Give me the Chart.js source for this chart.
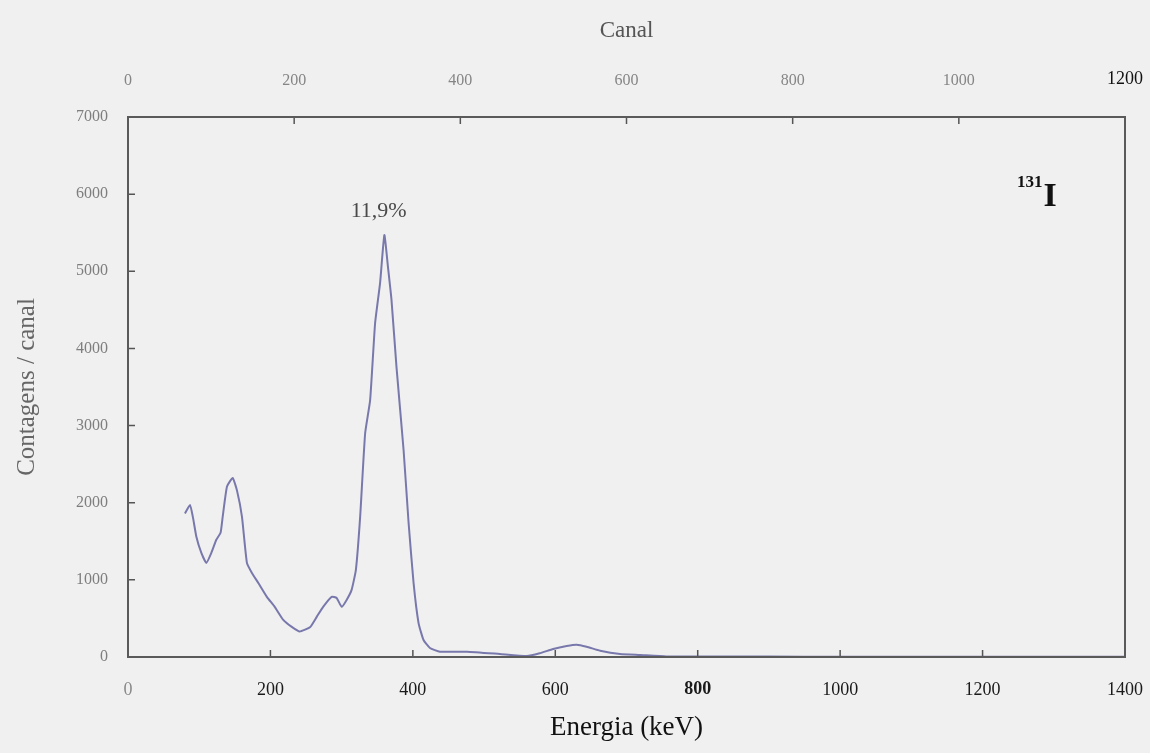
<!DOCTYPE html>
<html>
<head>
<meta charset="utf-8">
<title>Espectro 131I</title>
<script src="https://cdn.jsdelivr.net/npm/chart.js@4/dist/chart.umd.min.js"></script>
<style>
  html, body { margin: 0; padding: 0; background: #f0f0f0; }
  #wrap { width: 1150px; height: 753px; }
</style>
</head>
<body>
<div id="wrap"><canvas id="spectrum" width="1150" height="753"></canvas></div>
<script>
/* ── Data ────────────────────────────────────────────────────── */
const energyKeV = [80, 87, 91, 96, 103, 110, 117, 124, 130, 133, 139, 147, 153, 160, 167, 174,
  183, 195, 206, 218, 230, 241, 256, 265, 274, 286, 293, 300, 307, 314, 320, 326, 333, 340,
  347, 354, 360, 365, 370, 377, 387, 394, 401, 408, 415, 424, 438, 476, 522, 560, 578, 597,
  616, 630, 644, 663, 691, 719, 756, 800, 900, 1000, 1100, 1200, 1300, 1400];
const countsPerChannel = [1860, 1970, 1820, 1560, 1350, 1220, 1350, 1520, 1610, 1820, 2210, 2320,
  2160, 1820, 1220, 1090, 960, 780, 650, 480, 390, 330, 390, 520, 650, 780, 765, 650, 740, 870,
  1130, 1820, 2900, 3330, 4330, 4850, 5470, 5060, 4630, 3760, 2680, 1740, 960, 440, 220, 117,
  69, 69, 39, 13, 48, 104, 143, 160, 134, 82, 39, 26, 8, 6, 5, 4, 3, 3, 2, 2];

const energyTicks = [0, 200, 400, 600, 800, 1000, 1200, 1400];
const channelTicks = [0, 200, 400, 600, 800, 1000, 1200];
const countTicks = [0, 1000, 2000, 3000, 4000, 5000, 6000, 7000];

const peakLabel = { text: "11,9%", energy: 352, counts: 5780 };
const isotope = { mass: "131", symbol: "I" };

const SERIF = "'Liberation Serif', 'DejaVu Serif', serif";

/* ── Helpers drawn with the chart's scales ───────────────────── */
const background = {
  id: "background",
  beforeDraw(chart) {
    const { ctx, width, height } = chart;
    ctx.save();
    ctx.fillStyle = "#f0f0f0";
    ctx.fillRect(0, 0, width, height);
    ctx.restore();
  },
};

const frameAndTicks = {
  id: "frameAndTicks",
  afterDatasetsDraw(chart) {
    const { ctx, chartArea: a, scales } = chart;
    ctx.save();
    ctx.strokeStyle = "#555";
    ctx.lineWidth = 1.5;
    ctx.beginPath();
    energyTicks.slice(1, -1).forEach(v => {
      const x = scales.x.getPixelForValue(v);
      ctx.moveTo(x, a.bottom); ctx.lineTo(x, a.bottom - 7);
    });
    channelTicks.slice(1, -1).forEach(v => {
      const x = scales.x2.getPixelForValue(v);
      ctx.moveTo(x, a.top); ctx.lineTo(x, a.top + 7);
    });
    countTicks.slice(1, -1).forEach(v => {
      const y = scales.y.getPixelForValue(v);
      ctx.moveTo(a.left, y); ctx.lineTo(a.left + 7, y);
    });
    ctx.stroke();

    ctx.strokeStyle = "#5a5a5a";
    ctx.lineWidth = 2;
    ctx.strokeRect(a.left, a.top, a.right - a.left, a.bottom - a.top);
    ctx.restore();
  },
};

const annotations = {
  id: "annotations",
  afterDraw(chart) {
    const { ctx, chartArea: a, scales } = chart;
    ctx.save();
    ctx.fillStyle = "#4a4a4a";
    ctx.font = `22px ${SERIF}`;
    ctx.textAlign = "center";
    ctx.textBaseline = "middle";
    ctx.fillText(peakLabel.text,
      scales.x.getPixelForValue(peakLabel.energy),
      scales.y.getPixelForValue(peakLabel.counts));

    // isotope tag, upper right
    ctx.fillStyle = "#111";
    ctx.textAlign = "left";
    ctx.textBaseline = "alphabetic";
    ctx.font = `bold 17px ${SERIF}`;
    const mx = a.right - 108;
    ctx.fillText(isotope.mass, mx, a.top + 70);
    const mw = ctx.measureText(isotope.mass).width;
    ctx.font = `bold 34px ${SERIF}`;
    ctx.fillText(isotope.symbol, mx + mw + 1, a.top + 89);
    ctx.restore();
  },
};

function noOverhang(s) {
  s.paddingLeft = 0; s.paddingRight = 0; s.paddingTop = 0; s.paddingBottom = 0;
}

/* ── Chart ───────────────────────────────────────────────────── */
new Chart(document.getElementById("spectrum"), {
  type: "line",
  data: {
    datasets: [{
      data: energyKeV.map((e, i) => ({ x: e, y: countsPerChannel[i] })),
      borderColor: "#7878ac",
      borderWidth: 2,
      pointRadius: 0,
      tension: 0.15,
      fill: false,
      xAxisID: "x",
      yAxisID: "y",
    }],
  },
  options: {
    responsive: false,
    animation: false,
    layout: { padding: { left: 0, right: 25, top: 0, bottom: 0 } },
    plugins: { legend: { display: false }, tooltip: { enabled: false } },
    scales: {
      x: {
        type: "linear", position: "bottom", min: 0, max: 1400,
        afterBuildTicks: s => { s.ticks = energyTicks.map(v => ({ value: v })); },
        afterFit: s => { s.height = 96; noOverhang(s); },
        grid: { display: false, drawTicks: false },
        border: { display: false },
        ticks: {
          padding: 22,
          callback: v => String(v),
          color: c => (c.tick && c.tick.value === 0 ? "#8a8a8a" : "#1a1a1a"),
          font: c => ({ family: SERIF, size: 18, weight: c.tick && c.tick.value === 800 ? "bold" : "normal" }),
        },
        title: {
          display: true, text: "Energia (keV)", color: "#111",
          font: { family: SERIF, size: 27 }, padding: { top: 0, bottom: 9 },
        },
      },
      x2: {
        type: "linear", position: "top", min: 0, max: 1200,
        afterBuildTicks: s => { s.ticks = channelTicks.map(v => ({ value: v })); },
        afterFit: s => { s.height = 117; noOverhang(s); },
        grid: { display: false, drawTicks: false },
        border: { display: false },
        ticks: {
          padding: 27,
          callback: v => String(v),
          color: c => (c.tick && c.tick.value === 1200 ? "#111" : "#858585"),
          font: c => ({ family: SERIF, size: c.tick && c.tick.value === 1200 ? 18 : 16 }),
        },
        title: {
          display: true, text: "Canal", color: "#555",
          font: { family: SERIF, size: 23 }, padding: { top: 17, bottom: 0 },
        },
      },
      y: {
        type: "linear", position: "left", min: 0, max: 7000,
        afterBuildTicks: s => { s.ticks = countTicks.map(v => ({ value: v })); },
        afterFit: s => { s.width = 128; noOverhang(s); },
        grid: { display: false, drawTicks: false },
        border: { display: false },
        ticks: { padding: 20, callback: v => String(v), color: "#7e7e7e", font: { family: SERIF, size: 16 } },
        title: {
          display: true, text: "Contagens / canal", color: "#666",
          font: { family: SERIF, size: 25 }, padding: { top: 12, bottom: 0 },
        },
      },
    },
  },
  plugins: [background, frameAndTicks, annotations],
});
</script>
</body>
</html>
